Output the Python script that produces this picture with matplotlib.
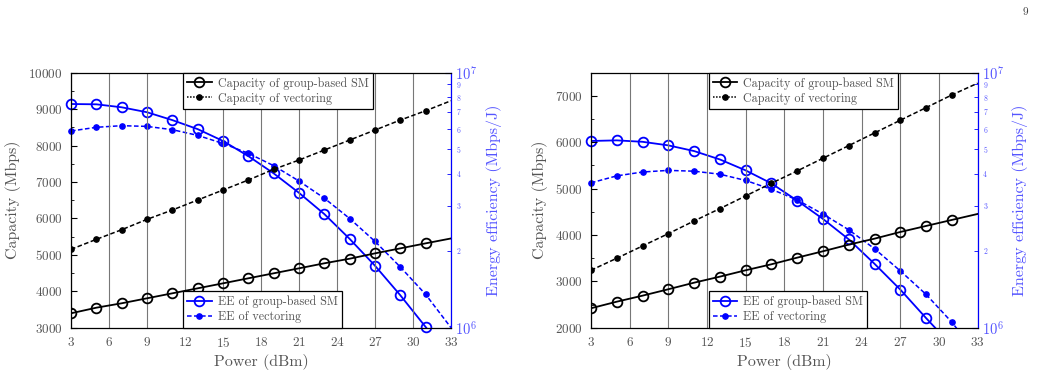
import matplotlib
matplotlib.use("Agg")
import matplotlib.pyplot as plt
from matplotlib.lines import Line2D
from matplotlib.ticker import MultipleLocator, LogLocator, FuncFormatter
import numpy as np

plt.rcParams['font.family'] = 'serif'
plt.rcParams['font.serif'] = ['cmr10', 'DejaVu Serif']
plt.rcParams['mathtext.fontset'] = 'cm'
plt.rcParams['axes.formatter.use_mathtext'] = True

# ---------------- data ----------------
power = [3, 5, 7, 9, 11, 13, 15, 17, 19, 21, 23, 25, 27, 29, 31, 33]

left_cap_sm = [3395, 3549, 3670, 3807, 3944, 4081, 4218, 4356, 4493, 4630, 4768, 4894, 5041, 5178, 5316, 5450]
left_cap_vec = [5152, 5426, 5690, 5975, 6231, 6506, 6780, 7055, 7348, 7603, 7878, 8152, 8427, 8701, 8957, 9231]
left_ee_sm = [7.54, 7.52, 7.32, 7.00, 6.52, 6.01, 5.40, 4.71, 4.03, 3.38, 2.79, 2.23, 1.75, 1.34, 1.006, 0.75]
left_ee_vec = [5.91, 6.11, 6.20, 6.16, 5.98, 5.68, 5.28, 4.83, 4.32, 3.76, 3.22, 2.68, 2.18, 1.73, 1.35, 1.00]

right_cap_sm = [2419, 2561, 2691, 2829, 2971, 3101, 3239, 3368, 3511, 3649, 3792, 3921, 4065, 4195, 4325, 4454]
right_cap_vec = [3239, 3498, 3763, 4029, 4303, 4569, 4843, 5117, 5382, 5656, 5928, 6202, 6476, 6748, 7022, 7275]
right_ee_sm = [5.40, 5.43, 5.36, 5.19, 4.93, 4.57, 4.14, 3.68, 3.15, 2.67, 2.22, 1.78, 1.41, 1.09, 0.85, 0.66]
right_ee_vec = [3.70, 3.94, 4.08, 4.14, 4.11, 4.00, 3.78, 3.49, 3.17, 2.79, 2.42, 2.04, 1.67, 1.35, 1.05, 0.78]

xticks = [3, 6, 9, 12, 15, 18, 21, 24, 27, 30, 33]
cap_labels = ["Capacity of group-based SM", "Capacity of vectoring"]
ee_labels = ["EE of group-based SM", "EE of vectoring"]

GREY = '#555555'
LBLUE = '#5555ff'
DASH = (0, (3.0, 1.6))
MS_O = 7.0
MS_D = 3.8

fig = plt.figure(figsize=(10.37, 3.76), dpi=100)
fig.text(0.991, 0.968, "9", fontsize=8, ha='right', va='center', color='#333333')


def panel(rect, cap_sm, cap_vec, ee_sm, ee_vec, ylo, yhi, legx):
    ax = fig.add_axes(rect)
    ax2 = ax.twinx()
    ax.set_zorder(ax2.get_zorder() + 1)
    ax.patch.set_visible(False)

    ee_sm_v = [v * 1e6 for v in ee_sm]
    ee_vec_v = [v * 1e6 for v in ee_vec]
    n = len(power) - 1

    # EE curves (right axis)
    ax2.plot(power, ee_sm_v, color='blue', lw=1.3, zorder=2)
    ax2.plot(power, ee_vec_v, color='blue', lw=1.1, ls=DASH, zorder=2)
    px = [p for p, v in zip(power[:n], ee_sm_v[:n]) if v >= 0.99e6]
    py = [v for v in ee_sm_v[:n] if v >= 0.99e6]
    ax2.plot(px, py, ls='none', marker='o', ms=MS_O, mfc='none', mec='blue', mew=1.3,
             clip_on=False, zorder=3)
    px = [p for p, v in zip(power[:n], ee_vec_v[:n]) if v >= 0.99e6]
    py = [v for v in ee_vec_v[:n] if v >= 0.99e6]
    ax2.plot(px, py, ls='none', marker='o', ms=MS_D, mfc='blue', mec='blue',
             clip_on=False, zorder=3)

    # capacity curves (left axis)
    ax.plot(power, cap_sm, color='black', lw=1.3, marker='o', ms=MS_O, mfc='none',
            mec='black', mew=1.3, markevery=slice(0, n), zorder=4)
    ax.plot(power, cap_vec, color='black', lw=1.1, ls=DASH, marker='o', ms=MS_D,
            mfc='black', markevery=slice(0, n), zorder=4)

    ax.set_xlim(3, 33)
    ax.set_ylim(ylo, yhi)
    ax.set_xticks(xticks)
    ax.yaxis.set_major_locator(MultipleLocator(1000))
    ax.yaxis.set_minor_locator(MultipleLocator(500))
    ax.grid(axis='x', color='#777777', lw=0.8)
    ax.tick_params(axis='x', direction='in', length=0, labelsize=9.5, colors=GREY, pad=6)
    ax.tick_params(axis='y', which='major', direction='in', length=4, labelsize=9.5,
                   colors=GREY, pad=6)
    ax.tick_params(axis='y', which='minor', direction='in', length=2, color=GREY)
    ax.tick_params(axis='y', colors='black', which='both', labelcolor=GREY)
    ax.set_xlabel("Power (dBm)", fontsize=11.5, color=GREY, labelpad=3)
    ax.set_ylabel("Capacity (Mbps)", fontsize=11.5, color=GREY, labelpad=5)
    for s in ['left', 'top', 'bottom']:
        ax.spines[s].set_color('black')
        ax.spines[s].set_linewidth(0.9)
    ax.spines['right'].set_visible(False)

    ax2.set_yscale('log')
    ax2.set_ylim(1e6, 1e7)
    ax2.yaxis.set_major_locator(LogLocator(base=10, numticks=5))
    ax2.yaxis.set_minor_locator(LogLocator(base=10, subs=np.arange(2, 10), numticks=20))
    ax2.yaxis.set_major_formatter(FuncFormatter(
        lambda v, p: r"$10^{%d}$" % int(round(np.log10(v)))))
    ax2.yaxis.set_minor_formatter(FuncFormatter(
        lambda v, p: "%d" % int(round(v / 10 ** np.floor(np.log10(v) + 1e-9)))))
    ax2.tick_params(axis='y', which='major', direction='in', length=4, labelsize=10.5,
                    colors='blue', labelcolor=LBLUE, pad=3)
    ax2.tick_params(axis='y', which='minor', direction='in', length=3, labelsize=5.5,
                    colors='blue', labelcolor=LBLUE, pad=4)
    for lab in ax2.get_yticklabels(which='major'):
        lab.set_verticalalignment('center_baseline')
    ax2.spines['right'].set_color('blue')
    ax2.spines['right'].set_linewidth(0.9)
    for s in ['left', 'top', 'bottom']:
        ax2.spines[s].set_visible(False)
    ax2.set_ylabel("Energy efficiency (Mbps/J)", fontsize=11.5, color=LBLUE, labelpad=6)

    h_cap = [Line2D([], [], color='black', lw=1.3, marker='o', ms=MS_O, mfc='none', mew=1.3),
             Line2D([], [], color='black', lw=1.1, ls=(0, (1, 1)), marker='o', ms=MS_D, mfc='black')]
    h_ee = [Line2D([], [], color='blue', lw=1.3, marker='o', ms=MS_O, mfc='none', mew=1.3),
            Line2D([], [], color='blue', lw=1.1, ls=DASH, marker='o', ms=MS_D, mfc='blue')]
    kw = dict(fontsize=8.7, frameon=True, fancybox=False, edgecolor='black',
              borderpad=0.35, labelspacing=0.25, handlelength=2.0, handletextpad=0.5,
              borderaxespad=0, framealpha=1)
    leg1 = ax.legend(h_cap, cap_labels, loc='upper left', bbox_to_anchor=(legx, 1.0), **kw)
    leg1.get_frame().set_linewidth(0.9)
    for t in leg1.get_texts():
        t.set_color(GREY)
    ax.add_artist(leg1)
    leg2 = ax.legend(h_ee, ee_labels, loc='lower left', bbox_to_anchor=(legx, 0.0), **kw)
    leg2.get_frame().set_linewidth(0.9)
    for t in leg2.get_texts():
        t.set_color(GREY)
    leg2.set_zorder(10)
    leg1.set_zorder(10)
    return ax, ax2


panel([0.0685, 0.1285, 0.3664, 0.678], left_cap_sm, left_cap_vec, left_ee_sm, left_ee_vec,
      3000, 10000, 0.295)
panel([0.5699, 0.1285, 0.3729, 0.678], right_cap_sm, right_cap_vec, right_ee_sm, right_ee_vec,
      2000, 7500, 0.305)

fig.savefig("out.png", dpi=100)
